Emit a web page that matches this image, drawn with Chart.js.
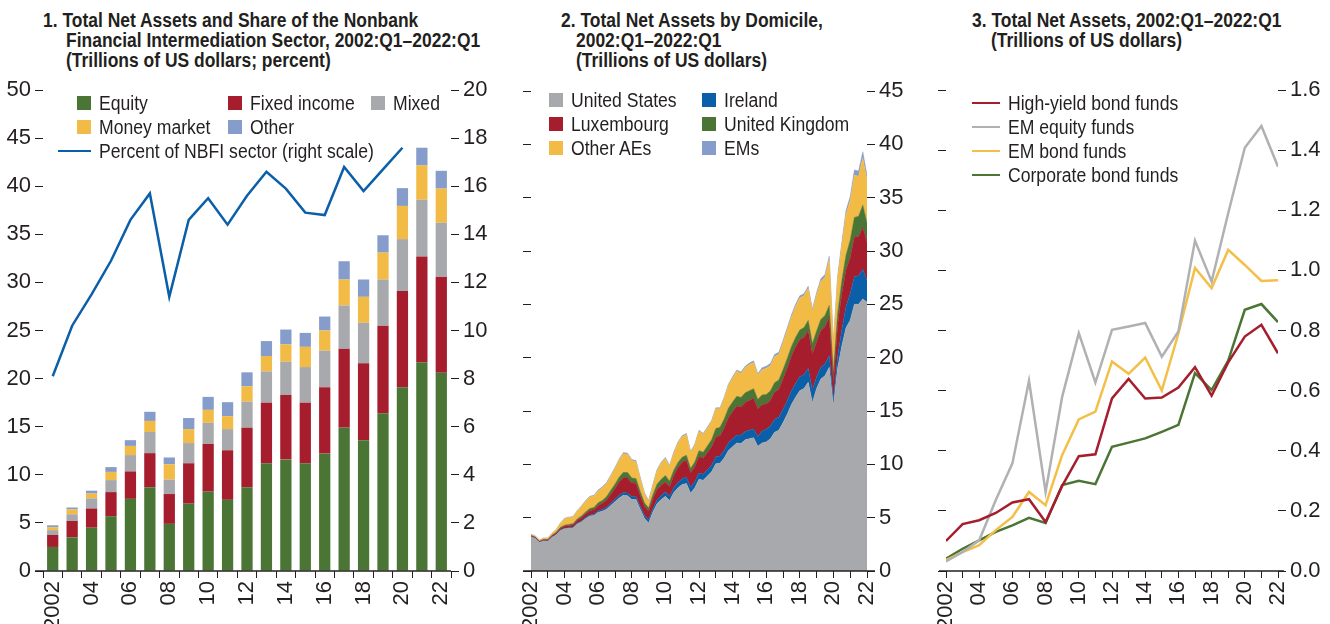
<!DOCTYPE html>
<html>
<head>
<meta charset="utf-8">
<script src="https://cdn.jsdelivr.net/npm/chart.js@4.4.1/dist/chart.umd.min.js"></script>
<style>
  body { margin: 0; background: #fff; width: 1330px; height: 624px; overflow: hidden; position: relative;
         font-family: "Liberation Sans Narrow", "Arial Narrow", "Liberation Sans", Arial, sans-serif; color: #231f20; }
  canvas { position: absolute; top: 0; }
  .title { position: absolute; font-weight: bold; font-size: 19.5px; line-height: 20px; white-space: nowrap; }
  .title span { display: inline-block; transform: scaleX(0.895); transform-origin: 0 50%; }
  .item { position: absolute; height: 24px; display: flex; align-items: center; font-size: 20px; white-space: nowrap; }
  .item span { display: inline-block; transform: scaleX(0.88); transform-origin: 0 50%; }
  .sw { width: 14px; height: 14px; margin-right: 8px; }
  .ln { height: 2.5px; margin-right: 8px; }
</style>
</head>
<body>
<div class="title" style="left:43px;top:10px">
  <div><span>1. Total Net Assets and Share of the Nonbank</span></div>
  <div style="padding-left:23px"><span>Financial Intermediation Sector, 2002:Q1–2022:Q1</span></div>
  <div style="padding-left:23px"><span>(Trillions of US dollars; percent)</span></div>
</div>
<div class="title" style="left:561px;top:10px">
  <div><span>2. Total Net Assets by Domicile,</span></div>
  <div style="padding-left:15px"><span>2002:Q1–2022:Q1</span></div>
  <div style="padding-left:15px"><span>(Trillions of US dollars)</span></div>
</div>
<div class="title" style="left:972px;top:10px">
  <div><span>3. Total Net Assets, 2002:Q1–2022:Q1</span></div>
  <div style="padding-left:19px"><span>(Trillions of US dollars)</span></div>
</div>

<canvas id="c1" width="500" height="624" style="left:0px"></canvas>
<canvas id="c2" width="440" height="624" style="left:480px"></canvas>
<canvas id="c3" width="410" height="624" style="left:920px"></canvas>

<script>
// ---------- Panel 1: annual, by fund type ----------
const years1 = ["2002", "03", "04", "05", "06", "07", "08", "09", "10", "11", "12",
                "13", "14", "15", "16", "17", "18", "19", "20", "21", "22"];
const equity      = [2.5, 3.5, 4.5, 5.7, 7.5, 8.7, 4.9, 7.0, 8.25, 7.4, 8.7, 11.2, 11.6, 11.2, 12.2, 14.9, 13.6, 16.4, 19.1, 21.7, 20.6];
const fixedIncome = [1.25, 1.7, 2.0, 2.5, 2.85, 3.55, 3.1, 4.2, 4.95, 5.15, 6.2, 6.3, 6.7, 6.3, 6.9, 8.2, 8.0, 9.1, 10.0, 11.0, 10.0];
const mixed       = [0.5, 0.7, 1.05, 1.25, 1.7, 2.2, 1.5, 2.1, 2.2, 2.2, 2.7, 3.25, 3.45, 3.7, 3.8, 4.5, 4.2, 4.8, 5.4, 5.9, 5.6];
const moneyMarket = [0.3, 0.5, 0.5, 0.85, 0.95, 1.15, 1.6, 1.45, 1.35, 1.35, 1.6, 1.6, 1.8, 2.1, 2.1, 2.7, 2.7, 2.8, 3.45, 3.55, 3.55];
const otherFunds  = [0.2, 0.2, 0.3, 0.5, 0.6, 0.95, 0.7, 1.15, 1.35, 1.45, 1.45, 1.55, 1.55, 1.45, 1.45, 1.9, 1.8, 1.8, 1.85, 1.85, 1.85];
const nbfiShare   = [8.1, 10.2, 11.5, 12.9, 14.6, 15.7, 11.4, 14.6, 15.5, 14.4, 15.6, 16.6, 15.9, 14.9, 14.8, 16.8, 15.8, 16.7, 17.6, null, null];

// ---------- Panel 2: quarterly, 2002:Q1-2022:Q1, by domicile ----------
const unitedStates = [
  3.20, 3.05, 2.68, 2.82,  2.80, 3.15, 3.40, 3.80,  3.95, 4.00, 4.02, 4.40,  4.60, 4.90, 5.15, 5.20,
  5.50, 5.60, 5.80, 6.15,  6.50, 6.85, 7.10, 7.05,  6.70, 6.70, 5.80, 4.95,  4.50, 5.50, 6.30, 6.70,
  7.00, 6.60, 7.35, 7.80,  8.10, 8.20, 7.30, 7.80,  8.60, 8.50, 8.90, 9.30,  10.05, 10.10, 10.60, 11.30,
  11.65, 12.00, 11.95, 12.30,  12.40, 12.50, 11.70, 12.00,  12.10, 12.40, 13.00, 13.20,  13.90, 14.70, 15.60, 16.30,
  16.90, 17.10, 17.70, 15.80,  17.10, 18.00, 18.30, 19.10,  15.50, 19.00, 21.10, 22.80,  23.50, 25.00, 25.00, 25.50,
  25.20];
const ireland = [
  0.02, 0.02, 0.02, 0.02,  0.02, 0.03, 0.03, 0.04,  0.05, 0.05, 0.06, 0.07,  0.08, 0.10, 0.11, 0.12,
  0.15, 0.16, 0.18, 0.20,  0.22, 0.24, 0.25, 0.26,  0.26, 0.27, 0.27, 0.28,  0.30, 0.32, 0.35, 0.38,
  0.40, 0.40, 0.45, 0.50,  0.55, 0.60, 0.55, 0.56,  0.58, 0.58, 0.60, 0.62,  0.65, 0.67, 0.70, 0.72,
  0.74, 0.76, 0.77, 0.78,  0.80, 0.82, 0.90, 1.10,  1.20, 1.20, 1.22, 1.22,  1.24, 1.26, 1.28, 1.30,
  1.30, 1.30, 1.30, 1.15,  1.10, 1.10, 1.10, 1.10,  0.60, 1.10, 1.50, 2.00,  2.50, 2.60, 2.65, 2.80,
  2.00];
const luxembourg = [
  0.08, 0.08, 0.07, 0.08,  0.09, 0.12, 0.14, 0.17,  0.20, 0.22, 0.24, 0.28,  0.32, 0.36, 0.40, 0.42,
  0.50, 0.58, 0.68, 0.85,  1.02, 1.25, 1.40, 1.42,  1.30, 1.26, 1.00, 0.85,  0.80, 0.90, 0.98, 0.96,
  0.95, 0.90, 1.15, 1.40,  1.55, 1.60, 1.35, 1.40,  1.55, 1.50, 1.60, 1.70,  1.85, 1.90, 2.10, 2.35,
  2.55, 2.70, 2.65, 2.72,  2.80, 2.85, 2.60, 2.50,  2.35, 2.40, 2.55, 2.60,  2.85, 3.05, 3.25, 3.40,
  3.50, 3.50, 3.55, 3.40,  3.30, 3.45, 3.50, 3.60,  1.60, 2.90, 3.40, 3.40,  3.40, 3.70, 3.70, 3.90,
  3.60];
const unitedKingdom = [
  0.03, 0.03, 0.03, 0.03,  0.04, 0.05, 0.06, 0.08,  0.10, 0.10, 0.11, 0.13,  0.16, 0.18, 0.20, 0.21,
  0.25, 0.28, 0.32, 0.36,  0.40, 0.46, 0.50, 0.50,  0.46, 0.44, 0.38, 0.32,  0.30, 0.40, 0.50, 0.55,
  0.60, 0.52, 0.50, 0.48,  0.47, 0.45, 0.40, 0.45,  0.55, 0.55, 0.62, 0.68,  0.80, 0.80, 0.85, 0.88,
  0.90, 0.92, 0.90, 0.90,  0.90, 0.92, 0.88, 0.90,  0.90, 0.88, 0.88, 0.88,  0.88, 0.90, 0.90, 0.90,
  0.90, 0.92, 0.94, 0.95,  1.00, 1.03, 1.05, 1.10,  0.90, 1.10, 1.20, 1.40,  1.60, 1.85, 1.90, 2.10,
  1.80];
const otherAEs = [
  0.10, 0.10, 0.08, 0.13,  0.13, 0.18, 0.24, 0.38,  0.60, 0.63, 0.62, 0.72,  0.88, 0.99, 1.07, 1.08,
  1.10, 1.18, 1.22, 1.34,  1.46, 1.60, 1.75, 1.72,  1.63, 1.58, 1.25, 0.85,  0.60, 0.88, 1.27, 1.51,
  1.60, 1.38, 1.60, 1.82,  1.93, 1.95, 1.50, 1.59,  1.82, 1.67, 1.68, 1.70,  1.85, 1.73, 1.93, 2.13,
  2.24, 2.35, 2.25, 2.36,  2.45, 2.46, 2.27, 2.37,  2.45, 2.37, 2.45, 2.40,  2.53, 2.69, 2.77, 2.90,
  3.00, 2.98, 3.01, 3.05,  3.40, 3.57, 3.60, 4.30,  2.70, 3.25, 3.30, 3.85,  3.70, 3.95, 3.75, 4.40,
  4.00];
const emDomiciles = [
  0.02, 0.02, 0.02, 0.02,  0.02, 0.02, 0.03, 0.03,  0.05, 0.05, 0.05, 0.05,  0.06, 0.07, 0.07, 0.07,
  0.10, 0.10, 0.10, 0.10,  0.10, 0.10, 0.10, 0.10,  0.10, 0.10, 0.10, 0.10,  0.10, 0.10, 0.10, 0.10,
  0.10, 0.10, 0.10, 0.10,  0.10, 0.10, 0.10, 0.10,  0.10, 0.10, 0.10, 0.10,  0.10, 0.10, 0.12, 0.12,
  0.12, 0.12, 0.13, 0.14,  0.15, 0.15, 0.15, 0.18,  0.20, 0.20, 0.20, 0.20,  0.20, 0.20, 0.20, 0.20,
  0.20, 0.20, 0.20, 0.20,  0.20, 0.25, 0.25, 0.30,  0.20, 0.25, 0.30, 0.35,  0.40, 0.50, 0.50, 0.60,
  0.50];
// quarter positions on the year axis: 2002:Q1 -> 2002.0, 2002:Q2 -> 2002.25, ...
const quarters = unitedStates.map((_, i) => 2002 + i / 4);

// ---------- Panel 3: annual, selected fund types ----------
const years3 = [2002, 2003, 2004, 2005, 2006, 2007, 2008, 2009, 2010, 2011, 2012,
                2013, 2014, 2015, 2016, 2017, 2018, 2019, 2020, 2021, 2022];
const highYield = [0.10, 0.156, 0.169, 0.193, 0.228, 0.239, 0.163, 0.283, 0.382, 0.388, 0.574, 0.639, 0.574, 0.577, 0.61, 0.678, 0.583, 0.694, 0.78, 0.819, 0.724];
const emEquity  = [0.032, 0.063, 0.102, 0.236, 0.358, 0.633, 0.263, 0.58, 0.791, 0.627, 0.802, 0.813, 0.825, 0.713, 0.797, 1.099, 0.963, 1.19, 1.408, 1.48, 1.345];
const emBond    = [0.036, 0.063, 0.086, 0.136, 0.18, 0.263, 0.219, 0.386, 0.504, 0.53, 0.697, 0.656, 0.71, 0.60, 0.79, 1.008, 0.941, 1.068, 1.018, 0.965, 0.967];
const corpBond  = [0.041, 0.074, 0.102, 0.13, 0.152, 0.177, 0.16, 0.286, 0.30, 0.289, 0.413, 0.427, 0.441, 0.463, 0.486, 0.658, 0.602, 0.70, 0.869, 0.888, 0.828];

// ---------- styling ----------
const INK = "#231f20";
const GREEN = "#4a7535", RED = "#a61e2e", GRAY = "#a8a9ac", YELLOW = "#f2bb45",
      LBLUE = "#869cca", BLUE = "#0b5fa9";
const TICK_FONT = { family: '"Liberation Sans Narrow", "Arial Narrow", "Liberation Sans", Arial, sans-serif', size: 22 };

Chart.defaults.font.family = TICK_FONT.family;
Chart.defaults.color = INK;
Chart.defaults.animation = false;

// x axis baseline, stretched across the tick zones on either side
const axisLine = {
  id: "axisLine",
  afterDraw(chart, args, opts) {
    const a = chart.chartArea, ctx = chart.ctx;
    ctx.save();
    ctx.strokeStyle = INK;
    ctx.lineWidth = 1.5;
    ctx.beginPath();
    ctx.moveTo(a.left - (opts.left || 0), a.bottom);
    ctx.lineTo(a.right + (opts.right || 0), a.bottom);
    ctx.stroke();
    ctx.restore();
  },
};

const fixW = (w) => (s) => { s.width = w; };
const fixH = (h) => (s) => { s.height = h; };

function yAxis(pos, min, max, step, width, fmt) {
  return {
    position: pos, min, max,
    afterFit: fixW(width),
    border: { display: false },
    grid: { drawOnChartArea: false, drawTicks: true, tickLength: 8, color: INK, lineWidth: 1 },
    ticks: { stepSize: step, font: TICK_FONT, color: INK, padding: 4, callback: fmt },
  };
}

const evenYear = (v) => (v === 2002 ? "2002" : v % 2 === 0 ? String(v).slice(2) : "");

function yearAxis(min, max) {
  return {
    type: "linear", min, max,
    afterFit: fixH(53),
    afterBuildTicks: (s) => { s.ticks = years3.map((v) => ({ value: v })); },
    border: { display: false },
    grid: { drawOnChartArea: false, drawTicks: true, tickLength: 7, color: INK, lineWidth: 1 },
    ticks: { autoSkip: false, minRotation: 90, maxRotation: 90, font: TICK_FONT, color: INK, padding: 3,
             callback: (v) => evenYear(v) },
  };
}

// ---------- chart 1 ----------
const barSeries = [
  ["Equity", equity, GREEN],
  ["Fixed income", fixedIncome, RED],
  ["Mixed", mixed, GRAY],
  ["Money market", moneyMarket, YELLOW],
  ["Other", otherFunds, LBLUE],
];

new Chart(document.getElementById("c1"), {
  type: "bar",
  data: {
    labels: years1,
    datasets: [
      { type: "line", label: "Percent of NBFI sector (right scale)", data: nbfiShare, yAxisID: "y2",
        borderColor: BLUE, borderWidth: 2.5, pointRadius: 0, tension: 0, order: 0 },
      ...barSeries.map(([label, data, color]) => ({
        label, data, backgroundColor: color, borderWidth: 0, yAxisID: "y",
        categoryPercentage: 1, barPercentage: 0.58, order: 1,
      })),
    ],
  },
  options: {
    responsive: false,
    layout: { padding: { top: 90 } },
    plugins: { legend: { display: false }, tooltip: { enabled: false }, axisLine: { left: 8, right: 0 } },
    scales: {
      x: {
        stacked: true,
        afterFit: fixH(53),
        border: { display: false },
        grid: { offset: true, drawOnChartArea: false, drawTicks: true, tickLength: 7, color: INK, lineWidth: 1 },
        ticks: { autoSkip: false, minRotation: 90, maxRotation: 90, font: TICK_FONT, color: INK, padding: 3,
                 callback: (v, i) => (i % 2 === 0 ? years1[i] : "") },
      },
      y: { ...yAxis("left", 0, 50, 5, 43), stacked: true },
      y2: yAxis("right", 0, 20, 2, 49),
    },
  },
  plugins: [axisLine],
});

// ---------- chart 2 ----------
const domSeries = [
  ["United States", unitedStates, GRAY],
  ["Ireland", ireland, BLUE],
  ["Luxembourg", luxembourg, RED],
  ["United Kingdom", unitedKingdom, GREEN],
  ["Other AEs", otherAEs, YELLOW],
  ["EMs", emDomiciles, LBLUE],
];

new Chart(document.getElementById("c2"), {
  type: "line",
  data: {
    datasets: domSeries.map(([label, vals, color], k) => ({
      label,
      data: vals.map((v, i) => ({ x: quarters[i], y: v })),
      backgroundColor: color, borderColor: color, borderWidth: 0.5,
      pointRadius: 0, tension: 0, fill: k === 0 ? "origin" : "-1",
    })),
  },
  options: {
    responsive: false,
    layout: { padding: { top: 91 } },
    plugins: { legend: { display: false }, tooltip: { enabled: false }, axisLine: { left: 8, right: 8 } },
    scales: {
      x: yearAxis(2002, 2022),
      y: { ...yAxis("left", 0, 45, 5, 51, () => ""), stacked: true },
      y2: yAxis("right", 0, 45, 5, 53),
    },
  },
  plugins: [axisLine],
});

// ---------- chart 3 ----------
const lineSeries = [
  ["High-yield bond funds", highYield, RED],
  ["EM equity funds", emEquity, "#b0b1b3"],
  ["EM bond funds", emBond, "#f4bf48"],
  ["Corporate bond funds", corpBond, GREEN],
];

new Chart(document.getElementById("c3"), {
  type: "line",
  data: {
    datasets: lineSeries.map(([label, vals, color]) => ({
      label,
      data: vals.map((v, i) => ({ x: years3[i], y: v })),
      borderColor: color, borderWidth: 2.5, pointRadius: 0, tension: 0, fill: false,
    })),
  },
  options: {
    responsive: false,
    layout: { padding: { top: 90 } },
    plugins: { legend: { display: false }, tooltip: { enabled: false }, axisLine: { left: 7, right: 6 } },
    scales: {
      x: yearAxis(2002, 2022),
      y: yAxis("left", 0, 1.6, 0.2, 26, () => ""),
      y2: yAxis("right", 0, 1.6, 0.2, 52, (v) => v.toFixed(1)),
    },
  },
  plugins: [axisLine],
});

// ---------- HTML legends ----------
function addItem(x, yc, text, color, kind, w) {
  const d = document.createElement("div");
  d.className = "item";
  d.style.left = x + "px";
  d.style.top = (yc - 12) + "px";
  const mark = document.createElement("div");
  mark.className = kind === "line" ? "ln" : "sw";
  mark.style.background = color;
  if (kind === "line") mark.style.width = w + "px";
  const span = document.createElement("span");
  span.textContent = text;
  d.appendChild(mark);
  d.appendChild(span);
  document.body.appendChild(d);
}

// panel 1
addItem(77, 103, barSeries[0][0], GREEN, "box");
addItem(228, 103, barSeries[1][0], RED, "box");
addItem(371, 103, barSeries[2][0], GRAY, "box");
addItem(77, 127, barSeries[3][0], YELLOW, "box");
addItem(228, 127, barSeries[4][0], LBLUE, "box");
addItem(58, 151, "Percent of NBFI sector (right scale)", BLUE, "line", 33);
// panel 2
[[0, 549, 100], [2, 549, 124], [4, 549, 148], [1, 702, 100], [3, 702, 124], [5, 702, 148]]
  .forEach(([k, x, y]) => addItem(x, y, domSeries[k][0], domSeries[k][2], "box"));
// panel 3
lineSeries.forEach(([label, , color], k) => addItem(972, 103 + 24 * k, label, color, "line", 28));
</script>
</body>
</html>
